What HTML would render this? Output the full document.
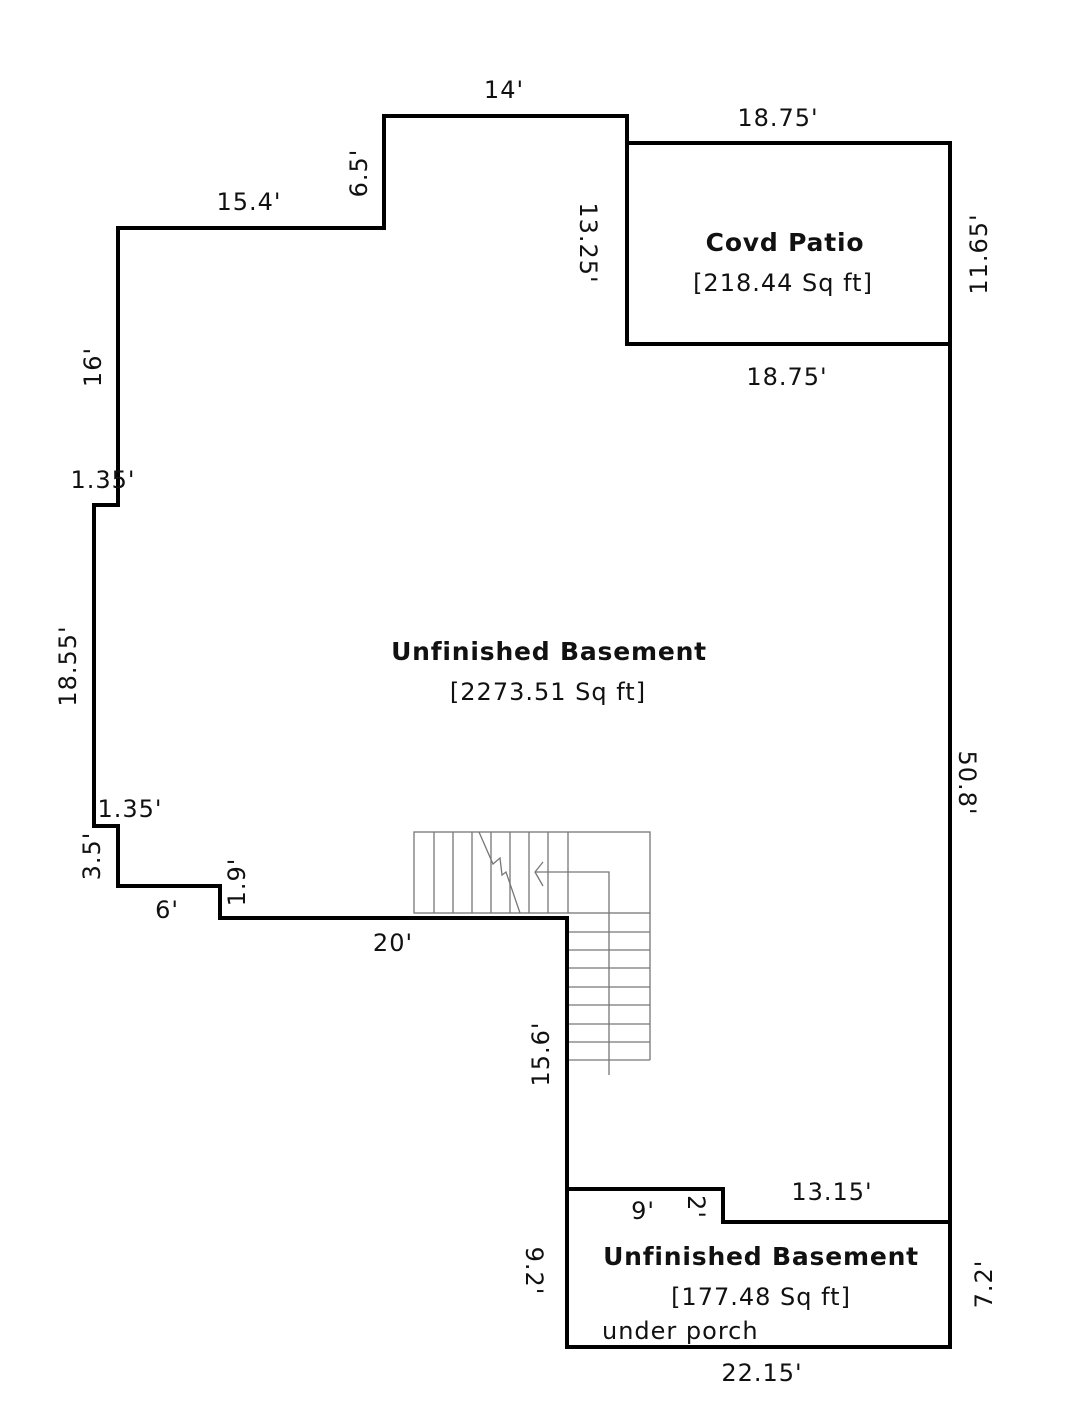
<!DOCTYPE html>
<html><head><meta charset="utf-8"><style>
html,body{margin:0;padding:0;background:#fff;}
svg{display:block;}
text{font-family:"DejaVu Sans","Liberation Sans",sans-serif;font-size:24px;letter-spacing:1px;fill:#111;}
.b{font-weight:bold;font-size:25px;letter-spacing:0.8px;}
</style></head><body>
<svg width="1084" height="1424" viewBox="0 0 1084 1424" xmlns="http://www.w3.org/2000/svg">
<g stroke="#777" stroke-width="1.3" fill="none">
<rect x="414" y="832" width="236" height="81"/>
<line x1="434" y1="832" x2="434" y2="913"/><line x1="453" y1="832" x2="453" y2="913"/>
<line x1="472" y1="832" x2="472" y2="913"/><line x1="491" y1="832" x2="491" y2="913"/>
<line x1="510" y1="832" x2="510" y2="913"/><line x1="529" y1="832" x2="529" y2="913"/>
<line x1="548" y1="832" x2="548" y2="913"/><line x1="568" y1="832" x2="568" y2="913"/>
<line x1="650" y1="913" x2="650" y2="1060"/>
<line x1="568" y1="932" x2="650" y2="932"/><line x1="568" y1="950" x2="650" y2="950"/>
<line x1="568" y1="968" x2="650" y2="968"/><line x1="568" y1="987" x2="650" y2="987"/>
<line x1="568" y1="1005" x2="650" y2="1005"/><line x1="568" y1="1024" x2="650" y2="1024"/>
<line x1="568" y1="1042" x2="650" y2="1042"/><line x1="568" y1="1060" x2="650" y2="1060"/>
<polyline points="609,1075 609,872 535,872"/>
<polyline points="543,862 535,872 543,886"/>
<polyline points="479,832 493,864 500,858 502,875 506,872 520,913"/>
</g>
<g stroke="#000" stroke-width="4" fill="none" stroke-linejoin="miter">
<polygon points="118,228 384,228 384,116 627,116 627,344 950,344 950,1347 567,1347 567,918 220,918 220,886 118,886 118,826 94,826 94,505 118,505"/>
<polyline points="627,143 950,143 950,344"/>
<polyline points="567,1189 723,1189 723,1222 950,1222"/>
</g>
<text x="504" y="98" text-anchor="middle">14'</text>
<text x="778" y="126" text-anchor="middle">18.75'</text>
<text x="249" y="210" text-anchor="middle">15.4'</text>
<text transform="translate(367,173) rotate(-90)" text-anchor="middle">6.5'</text>
<text transform="translate(580,243) rotate(90)" text-anchor="middle">13.25'</text>
<text transform="translate(987,254) rotate(-90)" text-anchor="middle">11.65'</text>
<text x="785" y="251" text-anchor="middle" class="b">Covd Patio</text>
<text x="783" y="291" text-anchor="middle">[218.44 Sq ft]</text>
<text x="787" y="385" text-anchor="middle">18.75'</text>
<text transform="translate(101,367) rotate(-90)" text-anchor="middle">16'</text>
<text x="103" y="488" text-anchor="middle">1.35'</text>
<text transform="translate(76,666) rotate(-90)" text-anchor="middle">18.55'</text>
<text x="549" y="660" text-anchor="middle" class="b">Unfinished Basement</text>
<text x="548" y="700" text-anchor="middle">[2273.51 Sq ft]</text>
<text transform="translate(959,783) rotate(90)" text-anchor="middle">50.8'</text>
<text x="130" y="817" text-anchor="middle">1.35'</text>
<text transform="translate(100,856) rotate(-90)" text-anchor="middle">3.5'</text>
<text transform="translate(245,882) rotate(-90)" text-anchor="middle">1.9'</text>
<text x="167" y="918" text-anchor="middle">6'</text>
<text x="393" y="951" text-anchor="middle">20'</text>
<text transform="translate(549,1054) rotate(-90)" text-anchor="middle">15.6'</text>
<text x="832" y="1200" text-anchor="middle">13.15'</text>
<text x="643" y="1219" text-anchor="middle">9'</text>
<text transform="translate(688,1207) rotate(90)" text-anchor="middle">2'</text>
<text transform="translate(526,1271) rotate(90)" text-anchor="middle">9.2'</text>
<text transform="translate(992,1284) rotate(-90)" text-anchor="middle">7.2'</text>
<text x="761" y="1265" text-anchor="middle" class="b">Unfinished Basement</text>
<text x="761" y="1305" text-anchor="middle">[177.48 Sq ft]</text>
<text x="602" y="1339">under porch</text>
<text x="762" y="1381" text-anchor="middle">22.15'</text>
</svg>
</body></html>
